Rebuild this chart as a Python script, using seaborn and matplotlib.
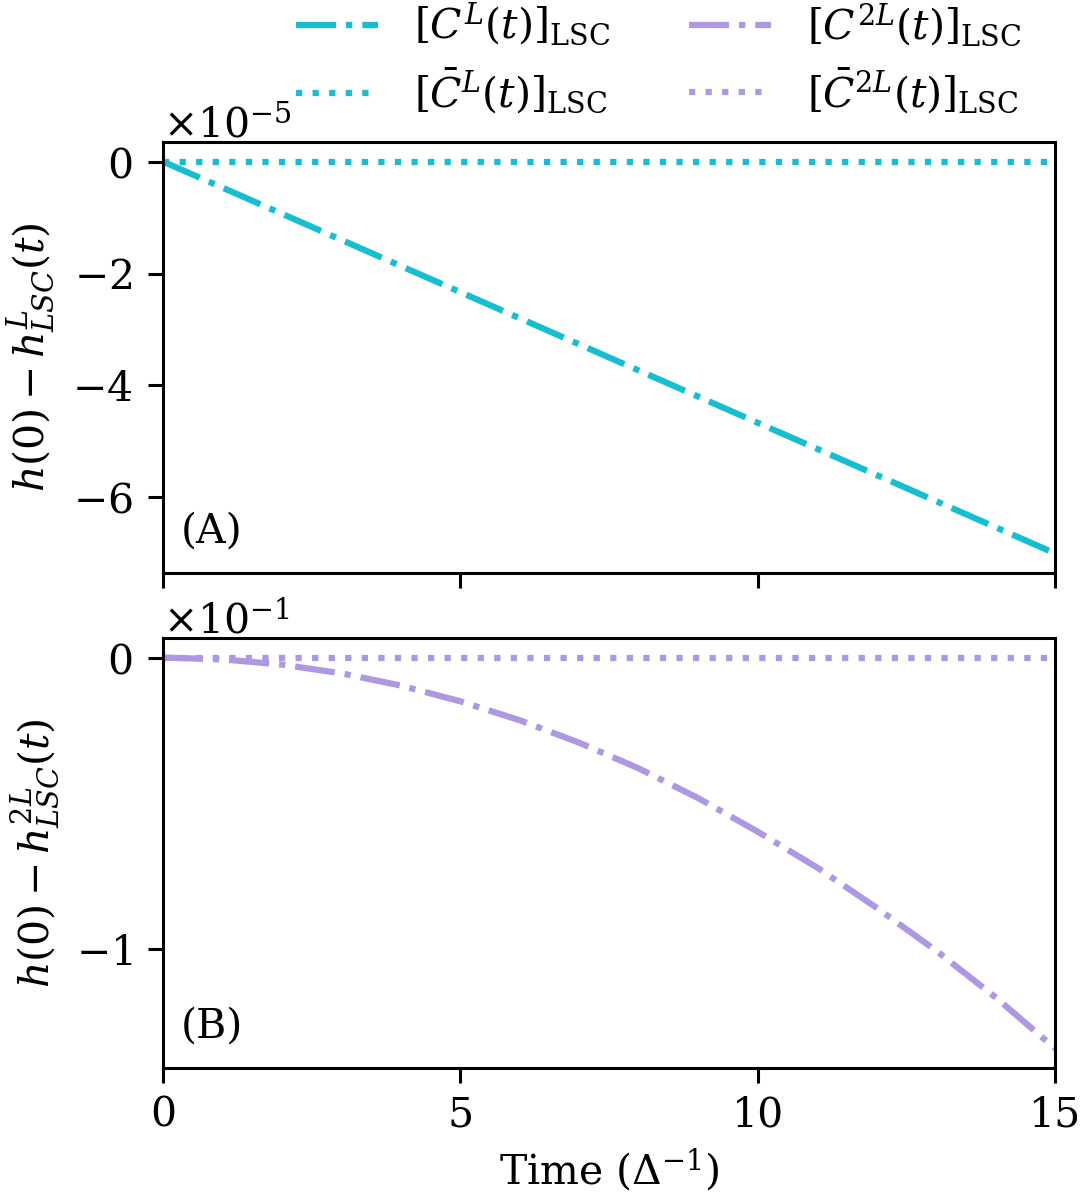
import numpy as np
import pandas as pd
import matplotlib
matplotlib.use('Agg')
import matplotlib.pyplot as plt
import seaborn as sns

# values
time = [0, 1, 2, 3, 4, 5, 6, 7, 8, 9, 10, 11, 12, 13, 14, 15]
cL = [0.0, -0.467, -0.933, -1.40, -1.867, -2.333, -2.80, -3.267, -3.733,
      -4.20, -4.667, -5.133, -5.60, -6.067, -6.533, -7.0]          # x 1e-5
cLbar = [0.0] * 16
c2L = [0.0, -0.006, -0.024, -0.054, -0.096, -0.15, -0.215, -0.292, -0.38,
       -0.482, -0.597, -0.72, -0.858, -1.005, -1.165, -1.34]        # x 1e-1
c2Lbar = [0.0] * 16

labels = [r'$[C^{L}(t)]_{\mathrm{LSC}}$', r'$[\bar{C}^{L}(t)]_{\mathrm{LSC}}$',
          r'$[C^{2L}(t)]_{\mathrm{LSC}}$', r'$[\bar{C}^{2L}(t)]_{\mathrm{LSC}}$']
ylabels = [r'$h(0) - h^{L}_{LSC}(t)$', r'$h(0) - h^{2L}_{LSC}(t)$']

cyan = '#17becf'
purple = '#ae98e1'

sns.set_style('ticks')
plt.rcParams['font.family'] = ['DejaVu Serif']
plt.rcParams['mathtext.fontset'] = 'dejavuserif'
plt.rcParams['font.size'] = 29.5
plt.rcParams['text.color'] = 'black'
plt.rcParams['axes.labelcolor'] = 'black'
plt.rcParams['axes.linewidth'] = 2.2
plt.rcParams['axes.edgecolor'] = 'black'
for a in ('xtick', 'ytick'):
    plt.rcParams[a + '.major.width'] = 2.2
    plt.rcParams[a + '.major.size'] = 11
    plt.rcParams[a + '.color'] = 'black'
    plt.rcParams[a + '.labelcolor'] = 'black'
plt.rcParams['xtick.major.pad'] = 9
plt.rcParams['ytick.major.pad'] = 11

df = pd.DataFrame({'t': time,
                   'cL': np.array(cL) * 1e-5, 'cLbar': np.array(cLbar) * 1e-5,
                   'c2L': np.array(c2L) * 1e-1, 'c2Lbar': np.array(c2Lbar) * 1e-1})

fig = plt.figure(figsize=(10.8, 11.98), dpi=100)
ax1 = fig.add_axes([0.151, 0.5217, 0.826, 0.3598])
ax2 = fig.add_axes([0.151, 0.1085, 0.826, 0.3589], sharex=ax1)

lw = 4.5
sns.lineplot(data=df, x='t', y='cL', ax=ax1, color=cyan, lw=lw, linestyle='-.', label=labels[0])
sns.lineplot(data=df, x='t', y='cLbar', ax=ax1, color=cyan, lw=lw, linestyle=':', label=labels[1])
sns.lineplot(data=df, x='t', y='c2L', ax=ax2, color=purple, lw=lw, linestyle='-.', label=labels[2])
sns.lineplot(data=df, x='t', y='c2Lbar', ax=ax2, color=purple, lw=lw, linestyle=':', label=labels[3])

handles, labs = [], []
for ax in (ax1, ax2):
    h, l = ax.get_legend_handles_labels()
    handles += h
    labs += l
    if ax.get_legend() is not None:
        ax.get_legend().remove()
    ax.ticklabel_format(axis='y', style='sci', scilimits=(0, 0), useMathText=True)

ax1.set_xlim(0, 15)
ax1.set_xticks([0, 5, 10, 15])
ax1.set_yticks([0, -2e-5, -4e-5, -6e-5])
ax2.set_yticks([0, -0.1])
ax1.tick_params(labelbottom=False)

ax1.set_xlabel('')
ax2.set_xlabel(r'Time ($\Delta^{-1}$)', labelpad=8)
ax1.set_ylabel(ylabels[0], labelpad=10)
ax2.set_ylabel(ylabels[1], labelpad=10)

ax1.text(0.02, 0.05, '(A)', transform=ax1.transAxes, va='bottom', ha='left')
ax2.text(0.02, 0.05, '(B)', transform=ax2.transAxes, va='bottom', ha='left')

fig.legend(handles, labs, ncol=2, loc='upper center', bbox_to_anchor=(0.61, 1.03),
           frameon=False, handlelength=2.0, handletextpad=0.9, columnspacing=1.9,
           labelspacing=0.45)

plt.savefig('out.png', dpi=100)
